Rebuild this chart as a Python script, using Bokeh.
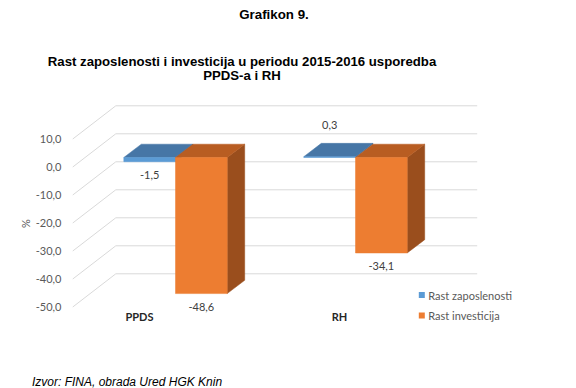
import math
from bokeh.plotting import figure
from bokeh.models import Range1d, FixedTicker
from bokeh.core.properties import value
from bokeh.embed import file_html
from bokeh.resources import INLINE

# ---------------- data ----------------
CATEGORIES = ["PPDS", "RH"]
SERIES = ["Rast zaposlenosti", "Rast investicija"]
ZAPOSLENOST = [-1.5, 0.3]
INVESTICIJE = [-48.6, -34.1]
Y_TICKS = [-50, -40, -30, -20, -10, 0, 10]
Y_TICK_LABELS = ["-50,0", "-40,0", "-30,0", "-20,0", "-10,0", "0,0", "10,0"]
TITLE = "Grafikon 9."
SUBTITLE = ["Rast zaposlenosti i investicija u periodu 2015-2016 usporedba", "PPDS-a i RH"]
SOURCE = "Izvor:  FINA, obrada Ured HGK Knin"
Y_LABEL = "%"

SERIES_VALUES = [ZAPOSLENOST, INVESTICIJE]
FRONT = ["#5B9BD5", "#ED7D31"]
TOPC = ["#4676A6", "#B85D22"]
SIDEC = ["#3B6591", "#9A4E1D"]

# ---------------- geometry (page pixels / value units) ----------------
W, H = 576, 388
FRAME_LEFT = 72
PX = 2.8                 # pixels per value unit
ZERO_Y = 166.7           # page y of value 0 on the front plane
WALL_DV = 33.4 / PX
WALL_X_FRONT, WALL_X_BACK, WALL_X_RIGHT = FRAME_LEFT, 115.3, 476.7
BAR_OFF = (ZERO_Y - 157.0) / PX
BAR_W = 51.7
GROUP_X0, GROUP_STEP = 123.3, 180.0
BAR_DX, BAR_DV = 17.5, 13.3 / PX
NEG_LABEL_GAP, POS_LABEL_GAP = 13.0 / PX, 32.0 / PX
CAT_X0, CAT_STEP, CAT_Y = 139.0, 200.0, 316.0

x_range = Range1d(FRAME_LEFT, W)
y_range = Range1d((ZERO_Y - H) / PX, ZERO_Y / PX)

p = figure(width=W, height=H, x_range=x_range, y_range=y_range,
           output_backend="svg", toolbar_location=None, x_axis_location=None,
           title=None, min_border_left=FRAME_LEFT, min_border_right=0,
           min_border_top=0, min_border_bottom=0, outline_line_color=None,
           background_fill_color="white", border_fill_color="white")
p.extra_y_ranges = {"px": Range1d(H, 0)}
p.grid.visible = False

# y axis (front plane)
ax = p.yaxis[0]
ax.ticker = FixedTicker(ticks=Y_TICKS)
ax.major_label_overrides = {t: l for t, l in zip(Y_TICKS, Y_TICK_LABELS)}
ax.axis_line_color = None
ax.major_tick_line_color = None
ax.minor_tick_line_color = None
ax.major_tick_out = 0
ax.major_tick_in = 0
ax.minor_tick_out = 0
ax.major_label_standoff = 11
ax.major_label_text_font = "Lato"
ax.major_label_text_font_size = "11px"
ax.major_label_text_color = "#595959"

# walls / gridlines
n = len(Y_TICKS)
GRID = "#D9D9D9"
p.segment(x0=[WALL_X_BACK] * n, y0=[t + WALL_DV for t in Y_TICKS],
          x1=[WALL_X_RIGHT] * n, y1=[t + WALL_DV for t in Y_TICKS],
          line_color=GRID, line_width=1)
p.segment(x0=[WALL_X_FRONT] * n, y0=Y_TICKS,
          x1=[WALL_X_BACK] * n, y1=[t + WALL_DV for t in Y_TICKS],
          line_color=GRID, line_width=1)

# 3D bars
for j, vals in enumerate(SERIES_VALUES):
    lefts, rights, tops, bots = [], [], [], []
    top_xs, top_ys, side_xs, side_ys = [], [], [], []
    for i, v in enumerate(vals):
        x0 = GROUP_X0 + GROUP_STEP * i + BAR_W * j
        x1 = x0 + BAR_W
        t = BAR_OFF + max(0.0, v)
        b = BAR_OFF + min(0.0, v)
        lefts.append(x0); rights.append(x1); tops.append(t); bots.append(b)
        side_xs.append([x1, x1 + BAR_DX, x1 + BAR_DX, x1])
        side_ys.append([b, b + BAR_DV, t + BAR_DV, t])
        top_xs.append([x0, x1, x1 + BAR_DX, x0 + BAR_DX])
        top_ys.append([t, t, t + BAR_DV, t + BAR_DV])
    p.patches(side_xs, side_ys, fill_color=SIDEC[j], line_color=SIDEC[j], line_width=0.5)
    p.patches(top_xs, top_ys, fill_color=TOPC[j], line_color=TOPC[j], line_width=0.5)
    p.quad(left=lefts, right=rights, top=tops, bottom=bots,
           fill_color=FRONT[j], line_color=FRONT[j], line_width=0.5)

# data labels
lx, ly, lt = [], [], []
for j, vals in enumerate(SERIES_VALUES):
    for i, v in enumerate(vals):
        x0 = GROUP_X0 + GROUP_STEP * i + BAR_W * j
        lx.append(x0 + BAR_W / 2)
        if v < 0:
            ly.append(BAR_OFF + v - NEG_LABEL_GAP)
        else:
            ly.append(BAR_OFF + v + POS_LABEL_GAP)
        lt.append(f"{v:.1f}".replace(".", ","))
p.text(x=lx, y=ly, text=lt, text_font=value("Lato"), text_font_size="11px",
       text_color="#404040", text_align="center", text_baseline="middle")

# category labels
p.text(x=[CAT_X0 + CAT_STEP * i for i in range(len(CATEGORIES))],
       y=[CAT_Y] * len(CATEGORIES), text=CATEGORIES, y_range_name="px",
       text_font=value("Lato"), text_font_style="bold", text_font_size="11px",
       text_color="#262626", text_align="center", text_baseline="middle")

# legend
LEG_X, LEG_Y0, LEG_STEP, LEG_SQ = 418.3, 294.5, 20.5, 6.0
leg_y = [LEG_Y0 + LEG_STEP * k for k in range(len(SERIES))]
p.quad(left=[LEG_X] * len(SERIES), right=[LEG_X + LEG_SQ] * len(SERIES),
       top=[y - LEG_SQ / 2 for y in leg_y], bottom=[y + LEG_SQ / 2 for y in leg_y],
       fill_color=FRONT, line_color=None, y_range_name="px")
p.text(x=[LEG_X + LEG_SQ + 3.5] * len(SERIES), y=leg_y, text=SERIES, y_range_name="px",
       text_font=value("Lato"), text_font_size="11px", text_color="#595959",
       text_align="left", text_baseline="middle")

# titles and notes (overlay level so they are not clipped to the frame)
def note(x, y, txt, size, style="normal", font="Liberation Sans", color="#000000",
         align="center", baseline="alphabetic", angle=0.0):
    p.text(x=[x], y=[y], text=[txt], y_range_name="px", level="overlay",
           text_font=value(font), text_font_style=style, text_font_size=size,
           text_color=color, text_align=align, text_baseline=baseline, angle=angle)

note(273.5, 13.5, TITLE, "13.3px", "bold")
note(241.5, 61.0, SUBTITLE[0], "13.2px", "bold")
note(241.5, 75.0, SUBTITLE[1], "13.2px", "bold")
note(31.5, 381.0, SOURCE, "12px", "italic", align="left")
note(24.5, 223.0, Y_LABEL, "11px", font="Lato", color="#595959",
     baseline="middle", angle=math.pi / 2)

open("out.html", "w").write(file_html(p, INLINE))
